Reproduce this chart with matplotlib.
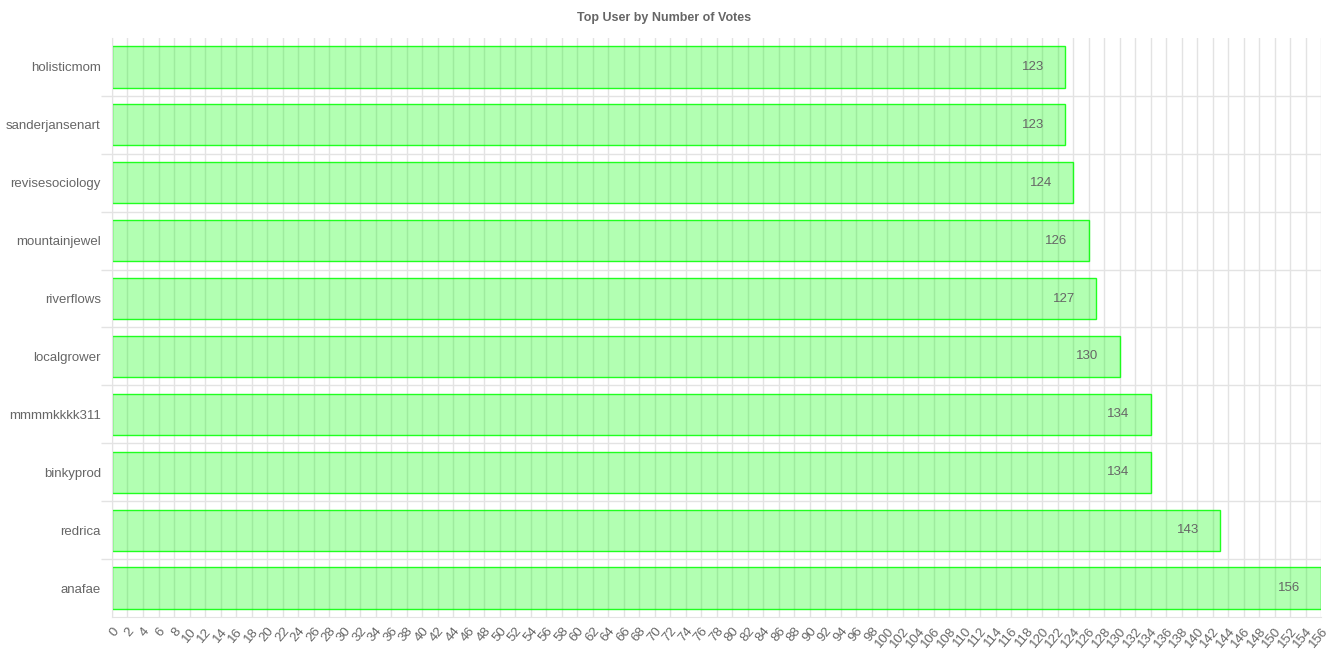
import matplotlib.pyplot as plt
import numpy as np

users = ['holisticmom', 'sanderjansenart', 'revisesociology', 'mountainjewel',
         'riverflows', 'localgrower', 'mmmmkkkk311', 'binkyprod', 'redrica', 'anafae']
votes = [123, 123, 124, 126, 127, 130, 134, 134, 143, 156]
x_ticks = list(range(0, 157, 2))

plt.rcParams['font.family'] = ['Liberation Sans', 'DejaVu Sans']
text_color = '#666666'
grid_color = '#e3e3e3'

fig = plt.figure(figsize=(13.28, 6.64), dpi=100)
ax = fig.add_axes([112 / 1328, 1 - 617 / 664, (1321 - 112) / 1328, (617 - 38) / 664])

y = np.arange(len(users))
ax.barh(y, votes, height=0.71, color=(0, 1, 0, 0.3), edgecolor=(0, 1, 0, 0.85),
        linewidth=1.0, zorder=2)

# value labels just inside the bar end
for yi, v in zip(y, votes):
    ax.annotate(str(v), (v, yi), xytext=(-15, 0), textcoords='offset points',
                ha='right', va='center', fontsize=9.5, color=text_color, zorder=3)

ax.set_xlim(0, 156)
ax.set_ylim(len(users) - 0.5, -0.5)

ax.set_xticks(x_ticks)
ax.set_xticklabels([str(t) for t in x_ticks], rotation=50, ha='right', va='top',
                   rotation_mode='anchor', fontsize=9.5, color=text_color)
ax.tick_params(axis='x', length=0, pad=6)

ax.set_yticks(y)
ax.set_yticklabels(users, fontsize=9.5, color=text_color)
ax.set_yticks(np.arange(0.5, len(users) - 0.5, 1), minor=True)
ax.tick_params(axis='y', which='major', length=0, pad=8)
ax.tick_params(axis='y', which='minor', length=8, color=grid_color, width=1)

ax.grid(axis='x', which='major', color=grid_color, linewidth=1, zorder=0)
ax.grid(axis='y', which='minor', color=grid_color, linewidth=1, zorder=0)
ax.set_axisbelow(True)

for side in ['top', 'right']:
    ax.spines[side].set_visible(False)
for side in ['left', 'bottom']:
    ax.spines[side].set_color(grid_color)

fig.text(0.5, 1 - 18 / 664, 'Top User by Number of Votes', ha='center', va='center',
         fontsize=9, fontweight='bold', color=text_color)

fig.savefig('out.png', dpi=100, facecolor='white')
